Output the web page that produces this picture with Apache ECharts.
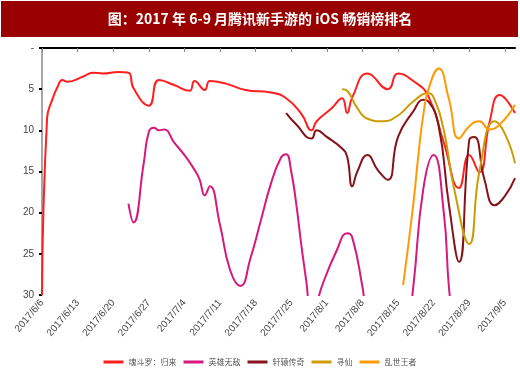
<!DOCTYPE html>
<html>
<head>
<meta charset="utf-8">
<script src="https://cdn.jsdelivr.net/npm/echarts@6/dist/echarts.min.js"></script>
<style>
  html, body { margin: 0; padding: 0; background: #fff; }
  #chart { width: 520px; height: 378px; }
</style>
</head>
<body>
<div id="chart"></div>
<script>
// x values are days counted from 2017/6/6
const startDate = [2017, 6, 6];
const lastDay = 93;
const rankTicks = [0, 5, 10, 15, 20, 25, 30];

const seriesNames = ['魂斗罗：归来', '英雄无敌', '轩辕传奇', '寻仙', '乱世王者'];

const hdlDays = [0, 1, 2, 3, 4, 5, 8, 10, 12, 15, 17, 18, 21, 23, 26, 29, 30, 32, 33, 36, 40, 45, 48, 51, 53, 54, 57, 59, 60, 61, 64, 68, 70, 73, 76, 79, 82, 84, 86, 88, 90, 93];
const hdlRank = [30, 8.5, 6.3, 4.8, 3.9, 4.1, 3.5, 3.0, 3.1, 2.9, 3.0, 4.9, 7.0, 3.9, 4.5, 5.2, 4.0, 5.1, 4.0, 4.3, 5.1, 5.4, 6.1, 8.0, 10.0, 8.9, 7.3, 6.1, 7.9, 6.0, 3.1, 5.0, 3.1, 4.0, 5.9, 11.5, 17, 13, 15.1, 9, 5.7, 7.9];

const yxDays = [17, 18, 20, 21, 22, 23, 24, 26, 28, 30, 31, 32, 33, 35, 37, 39, 41, 43, 45, 47, 48, 49, 50, 51, 52, 53, 55, 58, 60, 61, 63, 64, 68, 72, 73, 75, 77, 79, 80, 81];
const yxRank = [18.9, 21.2, 14, 10.2, 9.7, 10.0, 9.9, 11.5, 13, 14.8, 16, 17.9, 16.8, 21.5, 27, 28.9, 25.5, 21, 16.5, 13.3, 12.9, 15, 19, 24, 28.5, 33, 29, 24.5, 22.5, 23, 29, 33, 40, 33, 29, 17, 13, 20, 29, 34];

const xyDays = [48, 50, 53, 54, 56, 59, 60, 61, 62, 64, 66, 68, 70, 73, 75, 76, 78, 80, 82, 84, 85, 87, 89, 91, 93];
const xyRank = [7.9, 9.3, 11, 10, 10.8, 12.2, 13.2, 16.8, 15, 13, 14.8, 16, 10.8, 7.7, 6.3, 6.5, 9.5, 19, 26, 11.2, 10.8, 16, 19.1, 18, 15.8];

const xxDays = [59, 60, 62, 64, 67, 70, 73, 76, 77, 79, 81, 84, 86, 89, 91, 93];
const xxRank = [5, 5.2, 7.3, 8.6, 8.9, 8.2, 6.5, 5.5, 6, 10, 17, 23.8, 15, 8.9, 10.4, 14];

const lswzDays = [71, 73, 74, 75, 76, 78, 80, 82, 84, 86, 88, 90, 93];
const lswzRank = [28.8, 19, 13, 8, 5, 2.5, 6.2, 11, 9.5, 8.9, 9.9, 9.3, 6.9];

const colors = ['#ff1f1f', '#d6197c', '#84141a', '#cc9c06', '#ff9a05'];

const pairs = (days, ranks) => days.map((d, i) => [d, ranks[i]]);

const dayLabel = (v) => {
  const d = new Date(startDate[0], startDate[1] - 1, startDate[2] + v);
  return d.getFullYear() + '/' + (d.getMonth() + 1) + '/' + d.getDate();
};

const chart = echarts.init(document.getElementById('chart'));

const allData = [
  pairs(hdlDays, hdlRank),
  pairs(yxDays, yxRank),
  pairs(xyDays, xyRank),
  pairs(xxDays, xxRank),
  pairs(lswzDays, lswzRank),
];

const option = {
  animation: false,
  color: colors,
  graphic: [
    {
      type: 'rect',
      left: 1,
      top: 1,
      shape: { width: 517, height: 36 },
      style: { fill: '#990000' },
    },
    {
      type: 'text',
      left: 'center',
      top: 12,
      style: {
        text: '图：2017 年 6-9 月腾讯新手游的 iOS 畅销榜排名',
        fill: '#fff',
        font: 'bold 14px "Noto Sans CJK SC"',
      },
    },
  ],
  legend: {
    bottom: 7,
    left: 'center',
    icon: 'rect',
    itemWidth: 20,
    itemHeight: 3,
    itemGap: 7,
    textStyle: {
      fontSize: 8,
      color: '#555',
      fontFamily: '"Noto Sans CJK SC"',
    },
    data: seriesNames,
  },
  grid: {
    left: 42,
    right: 5,
    top: 48,
    bottom: 83,
  },
  xAxis: {
    type: 'value',
    min: 0,
    max: lastDay,
    interval: 7,
    axisLine: {
      lineStyle: { color: '#000', width: 2 },
    },
    axisTick: {
      length: 4,
      lineStyle: { color: '#888' },
    },
    splitLine: { show: false },
    axisLabel: {
      rotate: 50,
      fontSize: 10,
      color: '#444',
      fontFamily: '"Liberation Sans"',
      showMaxLabel: false,
      margin: 6,
      formatter: (v) => (v % 7 === 0 ? dayLabel(v) : ''),
    },
  },
  yAxis: {
    type: 'value',
    inverse: true,
    min: rankTicks[0],
    max: rankTicks[rankTicks.length - 1],
    interval: 5,
    axisLine: {
      show: true,
      lineStyle: { color: '#a6a6a6', width: 2 },
    },
    axisTick: {
      show: true,
      length: 3,
      lineStyle: { color: '#000', width: 2 },
    },
    splitLine: { show: false },
    axisLabel: {
      fontSize: 10,
      color: '#444',
      fontFamily: '"Liberation Sans"',
      margin: 8,
      formatter: (v) => (v === 0 ? '-' : v),
    },
  },
  series: seriesNames.map((name, i) => ({
    name,
    type: 'line',
    data: allData[i],
    smooth: 0.5,
    showSymbol: false,
    clip: true,
    lineStyle: { width: 2 },
  })),
};

chart.setOption(option);
window.addEventListener('resize', () => chart.resize());
</script>
</body>
</html>
